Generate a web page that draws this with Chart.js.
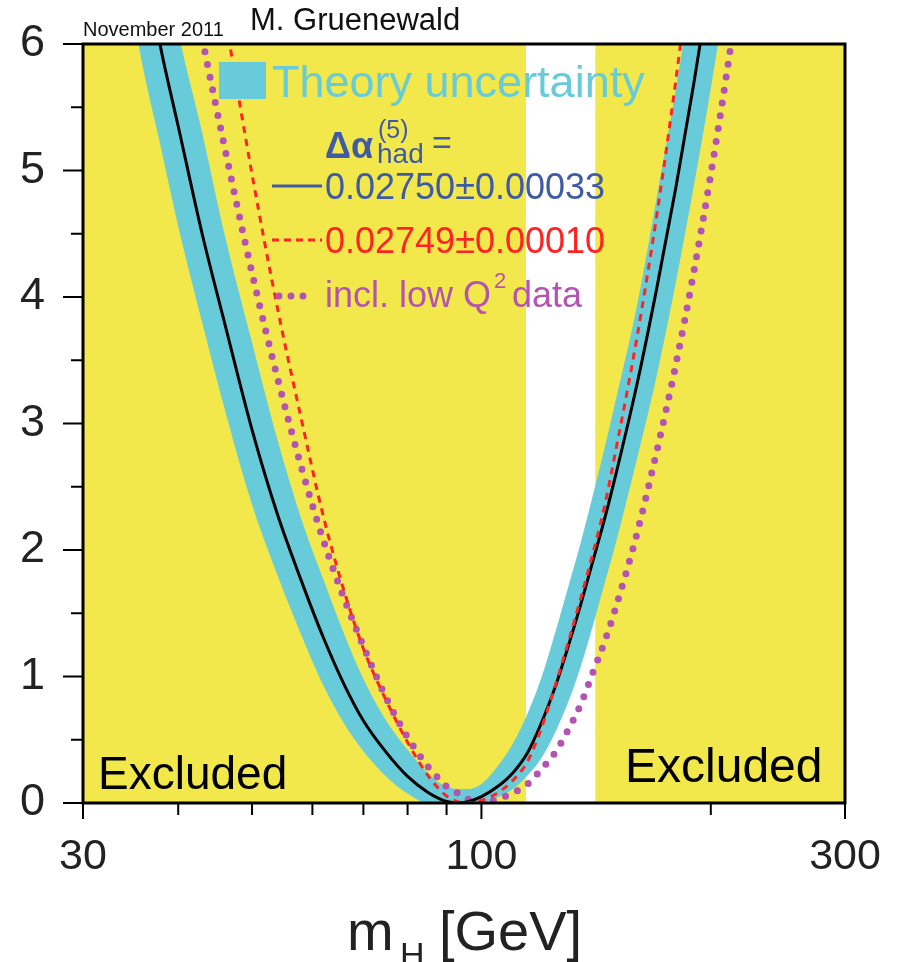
<!doctype html>
<html>

<head>
	<meta charset="utf-8">
	<title>Blue band - Delta chi2 vs mH</title>
	<script src="https://cdn.jsdelivr.net/npm/chart.js@4/dist/chart.umd.min.js"></script>
	<style>
		body { margin: 0; background: #fff; }
		#canvas-holder { width: 899px; height: 962px; }
	</style>
</head>

<body>
	<div id="canvas-holder">
		<canvas id="chart-area" width="899" height="962"></canvas>
	</div>

	<script>
		// Higgs mass grid (GeV) and delta chi^2 values
		const masses = [32, 34, 36, 38, 40, 43, 46, 50, 54, 58, 62, 66, 70, 75, 80, 85, 88, 90, 93, 96,
			100, 105, 110, 115, 120, 125, 130, 135, 140, 145, 150, 160, 170, 180, 190, 200, 210, 220, 230];
		const centralFit = [8.2, 7.4, 6.7, 5.95, 5.35, 4.5, 3.8, 2.95, 2.28, 1.76, 1.31, 0.94, 0.65, 0.4, 0.21, 0.085, 0.035, 0.012, 0, 0.01,
			0.05, 0.13, 0.24, 0.4, 0.64, 0.92, 1.24, 1.57, 1.91, 2.24, 2.59, 3.31, 4.08, 4.87, 5.69, 6.53, 7.38, 8.25, 9.1];
		const theoryLow = [7.33, 6.6, 5.8, 5.17, 4.56, 3.8, 3.12, 2.36, 1.8, 1.33, 0.93, 0.63, 0.41, 0.21, 0.075, 0, 0, 0, 0, 0,
			0, 0.045, 0.11, 0.22, 0.36, 0.56, 0.8, 1.08, 1.4, 1.73, 2.05, 2.72, 3.39, 4.12, 4.88, 5.65, 6.45, 7.25, 8.1];
		const theoryHigh = [9.3, 8.3, 7.5, 6.85, 6.1, 5.3, 4.5, 3.64, 2.87, 2.25, 1.77, 1.34, 0.98, 0.65, 0.42, 0.24, 0.16, 0.13, 0.11, 0.11,
			0.15, 0.29, 0.47, 0.71, 1.0, 1.35, 1.71, 2.06, 2.43, 2.8, 3.18, 3.93, 4.8, 5.65, 6.55, 7.45, 8.3, 9.2, 10.1];
		const altHadFit = [13.6, 12.15, 10.84, 9.82, 8.75, 7.35, 6.25, 4.97, 3.91, 3.04, 2.27, 1.68, 1.22, 0.81, 0.48, 0.22, 0.11, 0.055, 0.01, 0,
			0.02, 0.08, 0.18, 0.33, 0.6, 0.93, 1.27, 1.62, 1.97, 2.34, 2.78, 3.68, 4.66, 5.72, 6.85, 8.0, 9.13, 10.4, 11.7];
		const lowQ2Fit = [10.6, 9.63, 8.63, 7.85, 7.04, 6.05, 5.19, 4.19, 3.36, 2.66, 2.08, 1.62, 1.24, 0.83, 0.52, 0.29, 0.19, 0.13, 0.08, 0.03,
			0, 0.03, 0.08, 0.15, 0.27, 0.40, 0.58, 0.78, 1.03, 1.27, 1.54, 2.13, 2.79, 3.47, 4.2, 4.97, 5.78, 6.63, 7.5];

		// excluded mass ranges (GeV)
		const excludedLow = [30, 114.4];
		const excludedHigh = [141, 300];

		// axes
		const xMajorTicks = [30, 100, 300];
		const xMinorTicks = [40, 50, 60, 70, 80, 90, 200];
		const yTicks = [0, 0.5, 1, 1.5, 2, 2.5, 3, 3.5, 4, 4.5, 5, 5.5, 6];

		const YELLOW = '#f2e84b';
		const CYAN = '#67cbd9';
		const BLUE = '#3f5aa6';
		const RED = '#ff2424';
		const MAGENTA = '#b454b2';
		const FONT = "'Liberation Sans', Arial, sans-serif";

		const pts = (ys) => masses.map((m, i) => ({ x: m, y: ys[i] }));
		const band = (r) => r.map(m => ({ x: m, y: 6 }));

		const overlay = {
			id: 'overlay',
			afterDatasetsDraw(chart) {
				const { ctx, chartArea: a, scales: { x, y } } = chart;
				ctx.save();

				// excluded labels
				ctx.fillStyle = '#000';
				ctx.font = '46px ' + FONT;
				ctx.textBaseline = 'alphabetic';
				ctx.fillText('Excluded', 98, 789);
				ctx.font = '48px ' + FONT;
				ctx.fillText('Excluded', 625, 782);

				// legend
				ctx.fillStyle = CYAN;
				ctx.fillRect(219, 62, 47, 37);
				ctx.font = '45px ' + FONT;
				ctx.fillText('Theory uncertainty', 272, 97);

				ctx.fillStyle = BLUE;
				ctx.font = 'bold 36px ' + FONT;
				ctx.fillText('\u0394\u03b1', 325, 158);
				ctx.font = '25px ' + FONT;
				ctx.fillText('(5)', 378, 138);
				ctx.font = '28px ' + FONT;
				ctx.fillText('had', 377, 163);
				ctx.font = '34px ' + FONT;
				ctx.fillText('=', 432, 154);

				ctx.font = '36px ' + FONT;
				ctx.fillText('0.02750\u00b10.00033', 325, 199);
				ctx.strokeStyle = BLUE;
				ctx.lineWidth = 3;
				ctx.beginPath();
				ctx.moveTo(272, 186); ctx.lineTo(322, 186);
				ctx.stroke();

				ctx.fillStyle = RED;
				ctx.fillText('0.02749\u00b10.00010', 325, 253);
				ctx.strokeStyle = RED;
				ctx.setLineDash([7, 5]);
				ctx.beginPath();
				ctx.moveTo(272, 240); ctx.lineTo(322, 240);
				ctx.stroke();
				ctx.setLineDash([]);

				ctx.fillStyle = MAGENTA;
				ctx.fillText('incl. low Q', 325, 307);
				ctx.font = '22px ' + FONT;
				ctx.fillText('2', 494, 288);
				ctx.font = '36px ' + FONT;
				ctx.fillText('data', 512, 307);
				[279, 291, 303].forEach(px => {
					ctx.beginPath();
					ctx.arc(px, 296, 3.5, 0, Math.PI * 2);
					ctx.fill();
				});

				// frame
				ctx.strokeStyle = '#000';
				ctx.lineWidth = 3;
				ctx.strokeRect(a.left, a.top, a.right - a.left, a.bottom - a.top);

				// tick marks
				ctx.lineWidth = 2;
				ctx.beginPath();
				yTicks.forEach(v => {
					const py = y.getPixelForValue(v);
					const len = Number.isInteger(v) ? 20 : 12;
					ctx.moveTo(a.left - len, py); ctx.lineTo(a.left, py);
				});
				xMajorTicks.forEach(v => {
					const px = x.getPixelForValue(v);
					ctx.moveTo(px, a.bottom); ctx.lineTo(px, a.bottom + 16);
				});
				xMinorTicks.forEach(v => {
					const px = x.getPixelForValue(v);
					ctx.moveTo(px, a.bottom); ctx.lineTo(px, a.bottom + 12);
				});
				ctx.stroke();

				// header
				ctx.fillStyle = '#111';
				ctx.font = '20px ' + FONT;
				ctx.fillText('November 2011', 83, 36);
				ctx.font = '31px ' + FONT;
				ctx.fillText('M. Gruenewald', 250, 30);

				// x axis title
				ctx.fillStyle = '#222';
				ctx.font = '56px ' + FONT;
				ctx.fillText('m', 347, 950);
				ctx.font = '34px ' + FONT;
				ctx.fillText('H', 400, 966);
				ctx.font = '56px ' + FONT;
				ctx.fillText('[GeV]', 439, 950);

				ctx.restore();
			}
		};

		const lineBase = { showLine: true, pointRadius: 0, cubicInterpolationMode: 'monotone' };

		const ctx2d = document.getElementById('chart-area').getContext('2d');
		window.bandChart = new Chart(ctx2d, {
			type: 'scatter',
			data: {
				datasets: [{
					...lineBase,
					label: 'central',
					data: pts(centralFit),
					borderColor: '#000',
					borderWidth: 3,
					order: 2
				}, {
					...lineBase,
					label: 'alt had',
					data: pts(altHadFit),
					borderColor: RED,
					borderWidth: 3,
					borderDash: [7, 6],
					order: 1
				}, {
					...lineBase,
					label: 'low Q2',
					data: pts(lowQ2Fit),
					borderColor: MAGENTA,
					borderWidth: 7,
					borderDash: [0, 13],
					borderCapStyle: 'round',
					order: 3
				}, {
					...lineBase,
					label: 'theory low',
					data: pts(theoryLow),
					borderWidth: 0,
					borderColor: 'rgba(0,0,0,0)',
					order: 4
				}, {
					...lineBase,
					label: 'theory high',
					data: pts(theoryHigh),
					borderWidth: 0,
					borderColor: 'rgba(0,0,0,0)',
					backgroundColor: CYAN,
					fill: '-1',
					order: 4
				}, {
					label: 'excluded low',
					data: band(excludedLow),
					showLine: true,
					borderWidth: 0,
					borderColor: 'rgba(0,0,0,0)',
					backgroundColor: YELLOW,
					fill: 'origin',
					pointRadius: 0,
					order: 5
				}, {
					label: 'excluded high',
					data: band(excludedHigh),
					showLine: true,
					borderWidth: 0,
					borderColor: 'rgba(0,0,0,0)',
					backgroundColor: YELLOW,
					fill: 'origin',
					pointRadius: 0,
					order: 5
				}]
			},
			options: {
				responsive: false,
				animation: false,
				layout: { padding: { top: 44, right: 54, left: 0, bottom: 0 } },
				scales: {
					x: {
						type: 'logarithmic',
						min: 30,
						max: 300,
						afterBuildTicks(scale) {
							scale.ticks = xMajorTicks.map(v => ({ value: v }));
						},
						afterFit(scale) {
							scale.height = 159;
							scale.paddingLeft = 0;
							scale.paddingRight = 0;
						},
						grid: { display: false },
						border: { display: false },
						ticks: {
							autoSkip: false,
							maxRotation: 0,
							padding: 20,
							color: '#222',
							font: { family: FONT, size: 43 },
							callback: (v) => String(v)
						}
					},
					y: {
						min: 0,
						max: 6,
						afterFit(scale) {
							scale.width = 83;
							scale.paddingTop = 0;
							scale.paddingBottom = 0;
						},
						grid: { display: false },
						border: { display: false },
						ticks: {
							stepSize: 1,
							padding: 30,
							color: '#222',
							font: { family: FONT, size: 45 }
						}
					}
				},
				plugins: {
					legend: { display: false },
					title: { display: false },
					tooltip: { enabled: false }
				}
			},
			plugins: [overlay]
		});
	</script>
</body>

</html>
